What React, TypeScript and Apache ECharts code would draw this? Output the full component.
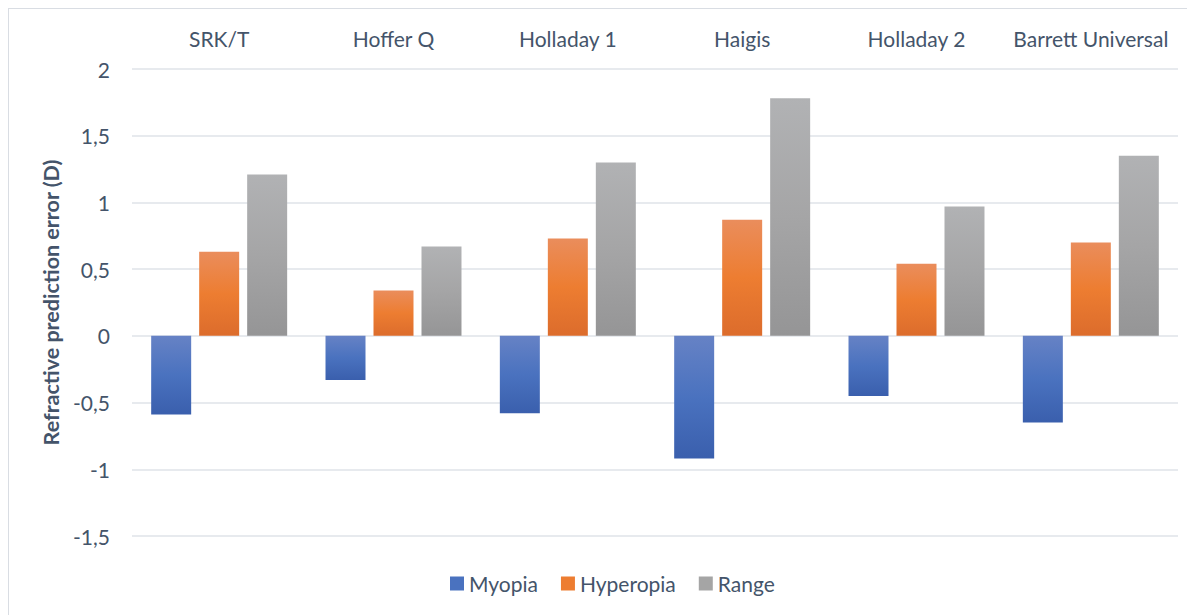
import React, { useEffect, useRef } from "react";
import * as echarts from "echarts";

const categories = ["SRK/T", "Hoffer Q", "Holladay 1", "Haigis", "Holladay 2", "Barrett Universal"];
const myopia = [-0.59, -0.33, -0.58, -0.92, -0.45, -0.65];
const hyperopia = [0.63, 0.34, 0.73, 0.87, 0.54, 0.70];
const range = [1.21, 0.67, 1.30, 1.78, 0.97, 1.35];
const yTicks = { min: -1.5, max: 2, interval: 0.5 };

const FONT = "Lato, 'Open Sans', sans-serif";
const TEXT = "#44546a";

function grad(top: string, mid: string, bottom: string) {
  return new echarts.graphic.LinearGradient(0, 0, 0, 1, [
    { offset: 0, color: top },
    { offset: 0.5, color: mid },
    { offset: 1, color: bottom },
  ]);
}

export default function App() {
  const ref = useRef<HTMLDivElement>(null);
  useEffect(() => {
    if (!ref.current) return;
    const chart = echarts.init(ref.current, undefined, { renderer: "svg" });
    const blue = grad("#6682c5", "#4a72bf", "#3a5fad");
    const orange = grad("#ea8d5c", "#ed7d31", "#dc6c2c");
    const gray = grad("#b1b2b4", "#a5a5a6", "#959596");
    chart.setOption({
      animation: false,
      textStyle: { fontFamily: FONT },
      grid: { left: 123, right: 17, top: 60, bottom: 79, containLabel: false },
      legend: {
        bottom: 16,
        left: 436,
        itemWidth: 14,
        itemHeight: 14,
        itemGap: 23,
        icon: "rect",
        textStyle: { fontFamily: FONT, fontSize: 21, color: TEXT, padding: [0, 0, 0, 0] },
        data: [
          { name: "Myopia", itemStyle: { color: "#4a72bf" } },
          { name: "Hyperopia", itemStyle: { color: "#ed7d31" } },
          { name: "Range", itemStyle: { color: "#a5a5a5" } },
        ],
      },
      xAxis: {
        type: "category",
        data: categories,
        position: "top",
        axisLine: { show: false },
        axisTick: { show: false },
        axisLabel: { fontFamily: FONT, fontSize: 21, color: TEXT, margin: 20, interval: 0 },
      },
      yAxis: {
        type: "value",
        min: yTicks.min,
        max: yTicks.max,
        interval: yTicks.interval,
        name: "Refractive prediction error (D)",
        nameLocation: "middle",
        nameGap: 62,
        nameRotate: 90,
        nameTextStyle: { fontFamily: FONT, fontSize: 21.5, fontWeight: "bold", color: TEXT },
        axisLine: { show: false },
        axisTick: { show: false },
        axisLabel: {
          fontFamily: FONT,
          fontSize: 21,
          color: TEXT,
          margin: 22,
          formatter: (v: number) => String(v).replace(".", ","),
        },
        splitLine: { lineStyle: { color: "#dfe3e8", width: 1.5 } },
      },
      series: [
        { name: "Myopia", type: "bar", data: myopia, barGap: "20%", barCategoryGap: "22%", itemStyle: { color: blue } },
        { name: "Hyperopia", type: "bar", data: hyperopia, barGap: "20%", barCategoryGap: "22%", itemStyle: { color: orange } },
        { name: "Range", type: "bar", data: range, barGap: "20%", barCategoryGap: "22%", itemStyle: { color: gray } },
      ],
    });
    return () => chart.dispose();
  }, []);
  return (
    <div
      style={{
        width: 1187,
        height: 607,
        boxSizing: "border-box",
        borderTop: "1px solid #d9dde3",
        borderLeft: "1px solid #d9dde3",
        background: "#fff",
      }}
    >
      <div ref={ref} style={{ width: 1186, height: 606 }} />
    </div>
  );
}
